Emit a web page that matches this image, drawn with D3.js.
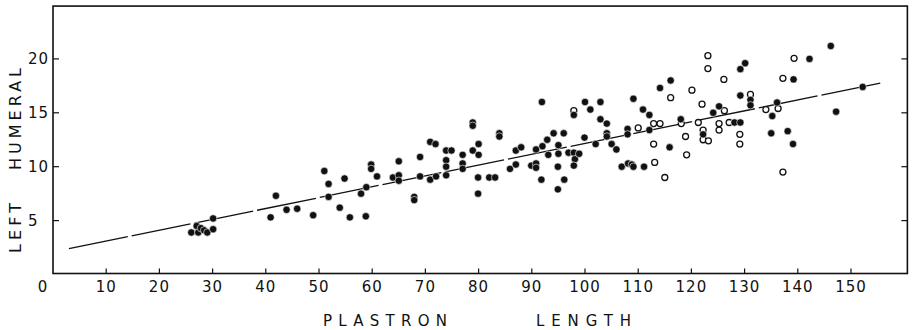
<!DOCTYPE html>
<html>
<head>
<meta charset="utf-8">
<script src="https://cdn.jsdelivr.net/npm/d3@7"></script>
<style>
  body { margin: 0; background: #fff; }
  text { font-family: "DejaVu Sans", sans-serif; fill: #111; }
</style>
</head>
<body>
<script>
// Values
var xTicks = [10, 20, 30, 40, 50, 60, 70, 80, 90, 100, 110, 120, 130, 140, 150];
var yTicks = [5, 10, 15, 20];

// filled circles [plastron length, left humeral]
var filledPoints = [
  [26, 3.9], [27, 4.5], [27.3, 3.9], [27.8, 4.3], [28.4, 4.1], [29, 3.9], [30.1, 5.2], [30.1, 4.2],
  [40.9, 5.3], [41.9, 7.3], [43.9, 6.0], [45.9, 6.1], [48.9, 5.5],
  [51, 9.6], [51.8, 8.4], [51.8, 7.2], [53.9, 6.2], [54.8, 8.9], [55.8, 5.3], [57.9, 7.5],
  [58.9, 8.1], [58.8, 5.4], [59.8, 10.2], [59.8, 9.8], [60.9, 9.1], [63.9, 9.0],
  [65, 10.5], [65, 9.2], [65, 8.7], [67.9, 7.2], [67.9, 6.9], [69, 10.9], [69, 9.1],
  [70.9, 12.3], [71.9, 12.1], [70.9, 8.8], [72, 9.1], [73.9, 11.5], [74.9, 11.5],
  [73.9, 10.6], [73.9, 10.0], [73.9, 9.2], [77, 11.1], [77, 10.3], [77, 9.8],
  [78.9, 14.1], [78.9, 13.8], [78.9, 11.5], [80, 12.1], [80, 11.1], [79.9, 9.0], [79.9, 7.5],
  [82, 9.0], [83.1, 9.0], [83.9, 13.1], [83.9, 12.8], [85.9, 9.8], [87, 11.5], [87, 10.2],
  [88, 11.8], [89.9, 10.1], [90.8, 11.6], [90.8, 10.3], [90.8, 9.9], [91.9, 16.0],
  [92, 11.9], [91.8, 8.8], [92.9, 12.5], [93.1, 11.1], [94.1, 13.1], [95, 12.0],
  [95, 11.2], [94.9, 10.0], [94.9, 7.9], [96, 13.1], [96.1, 8.8], [96.9, 11.3],
  [97.9, 14.8], [97.9, 11.3], [98.1, 10.7], [97.9, 10.1], [98.9, 11.2], [99.9, 12.7],
  [100, 16.0], [101, 15.3], [102, 12.1], [102.9, 16.0], [102.9, 14.4], [104.1, 14.0],
  [104.1, 13.1], [104.1, 12.8], [105, 12.1], [105.9, 11.6], [106.9, 10.0], [108, 13.5],
  [108, 13.0], [108.1, 10.3], [108.8, 10.2], [109.1, 10.0], [109.1, 16.3], [110.9, 15.3],
  [111.1, 10.0], [112.1, 14.8], [112.1, 13.4], [114.1, 17.3], [115.9, 11.8], [116.1, 18.0],
  [118, 14.4], [122.2, 13.0], [124.1, 15.0], [125.2, 15.6], [128.1, 14.1], [129.2, 14.1],
  [129.2, 16.6], [129.2, 19.05], [130.1, 19.6], [131.1, 16.2], [131.1, 15.7], [136.1, 15.95],
  [135.2, 14.7], [135, 13.1], [138.1, 13.3], [139.1, 12.1], [139.2, 18.1], [142.2, 20.0],
  [146.2, 21.2], [147.2, 15.1], [152.2, 17.4]
];

// open circles
var openPoints = [
  [97.9, 15.2], [110, 13.6], [112.9, 14.0], [112.9, 12.1], [113.1, 10.4], [114.1, 14.0],
  [115, 9.0], [116.1, 16.4], [118.1, 14.0], [118.9, 12.8], [119.1, 11.1], [120.1, 17.1],
  [121.3, 14.1], [122, 15.8], [122.2, 13.4], [122.2, 12.5], [123.2, 12.4], [123.1, 20.3],
  [123.1, 19.1], [125.2, 14.0], [125.2, 13.4], [126.2, 15.2], [126.1, 18.1], [127.1, 14.1],
  [129.1, 13.0], [129.1, 12.1], [131.1, 16.7], [134, 15.3], [136.3, 15.4], [137.2, 18.2],
  [137.2, 9.5], [139.3, 20.05]
];

// fitted line end points
var fitLine = [[3, 2.4], [156, 17.8]];

var width = 913, height = 330;
var xMax = 160.6, yMax = 24.9;

var svg = d3.select("body").append("svg")
    .attr("width", width)
    .attr("height", height);

var x = d3.scaleLinear().domain([0, 160]).range([53, 904.2]);
var y = d3.scaleLinear().domain([0, 25]).range([274.5, 5]);

// frame
svg.append("rect")
    .attr("x", x(0))
    .attr("y", y(yMax))
    .attr("width", x(xMax) - x(0))
    .attr("height", y(0) - y(yMax) - 1)
    .attr("fill", "none")
    .attr("stroke", "#111")
    .attr("stroke-width", 1.6);

var bottom = y(0) - 1, top = y(yMax);

// inward ticks on all four sides
xTicks.forEach(function (t) {
    svg.append("line")
        .attr("x1", x(t)).attr("x2", x(t))
        .attr("y1", bottom).attr("y2", bottom - 5)
        .attr("stroke", "#111").attr("stroke-width", 1.2);
    svg.append("line")
        .attr("x1", x(t)).attr("x2", x(t))
        .attr("y1", top).attr("y2", top + 5)
        .attr("stroke", "#111").attr("stroke-width", 1.2);
});
yTicks.forEach(function (t) {
    svg.append("line")
        .attr("x1", x(0)).attr("x2", x(0) + 6)
        .attr("y1", y(t)).attr("y2", y(t))
        .attr("stroke", "#111").attr("stroke-width", 1.2);
    svg.append("line")
        .attr("x1", x(xMax)).attr("x2", x(xMax) - 6)
        .attr("y1", y(t)).attr("y2", y(t))
        .attr("stroke", "#111").attr("stroke-width", 1.2);
});

// tick labels
svg.selectAll("text.xlab")
    .data([0].concat(xTicks))
    .enter().append("text")
    .attr("class", "xlab")
    .attr("x", function (d) { return d === 0 ? 43 : x(d); })
    .attr("y", 292)
    .attr("text-anchor", "middle")
    .attr("font-size", 15)
    .attr("letter-spacing", 1)
    .text(function (d) { return d; });

svg.selectAll("text.ylab")
    .data(yTicks)
    .enter().append("text")
    .attr("class", "ylab")
    .attr("x", 28)
    .attr("y", function (d) { return y(d) + 5.5; })
    .attr("font-size", 15)
    .attr("letter-spacing", 1)
    .text(function (d) { return d; });

// axis titles
svg.append("text")
    .attr("x", 323).attr("y", 326)
    .attr("font-size", 15)
    .attr("textLength", 124).attr("lengthAdjust", "spacing")
    .text("PLASTRON");
svg.append("text")
    .attr("x", 536).attr("y", 326)
    .attr("font-size", 15)
    .attr("textLength", 95).attr("lengthAdjust", "spacing")
    .text("LENGTH");

var ytitle = svg.append("g").attr("transform", "translate(21,0) rotate(-90)");
ytitle.append("text")
    .attr("x", -253).attr("y", 0)
    .attr("font-size", 16)
    .attr("textLength", 50).attr("lengthAdjust", "spacing")
    .text("LEFT");
ytitle.append("text")
    .attr("x", -170).attr("y", 0)
    .attr("font-size", 16)
    .attr("textLength", 102).attr("lengthAdjust", "spacing")
    .text("HUMERAL");

// fitted line
svg.append("path")
    .datum(fitLine)
    .attr("d", d3.line().x(function (d) { return x(d[0]); }).y(function (d) { return y(d[1]); }))
    .attr("fill", "none")
    .attr("stroke", "#111")
    .attr("stroke-width", 1.3)
    .attr("stroke-dasharray", "60,4");

// points
svg.selectAll("circle.open")
    .data(openPoints)
    .enter().append("circle")
    .attr("class", "open")
    .attr("cx", function (d) { return x(d[0]); })
    .attr("cy", function (d) { return y(d[1]); })
    .attr("r", 3)
    .attr("fill", "#fff")
    .attr("stroke", "#111")
    .attr("stroke-width", 1.3);

svg.selectAll("circle.filled")
    .data(filledPoints)
    .enter().append("circle")
    .attr("class", "filled")
    .attr("cx", function (d) { return x(d[0]); })
    .attr("cy", function (d) { return y(d[1]); })
    .attr("r", 3.7)
    .attr("fill", "#111")
    .attr("stroke", "#fff")
    .attr("stroke-width", 0.6);
</script>
</body>
</html>
